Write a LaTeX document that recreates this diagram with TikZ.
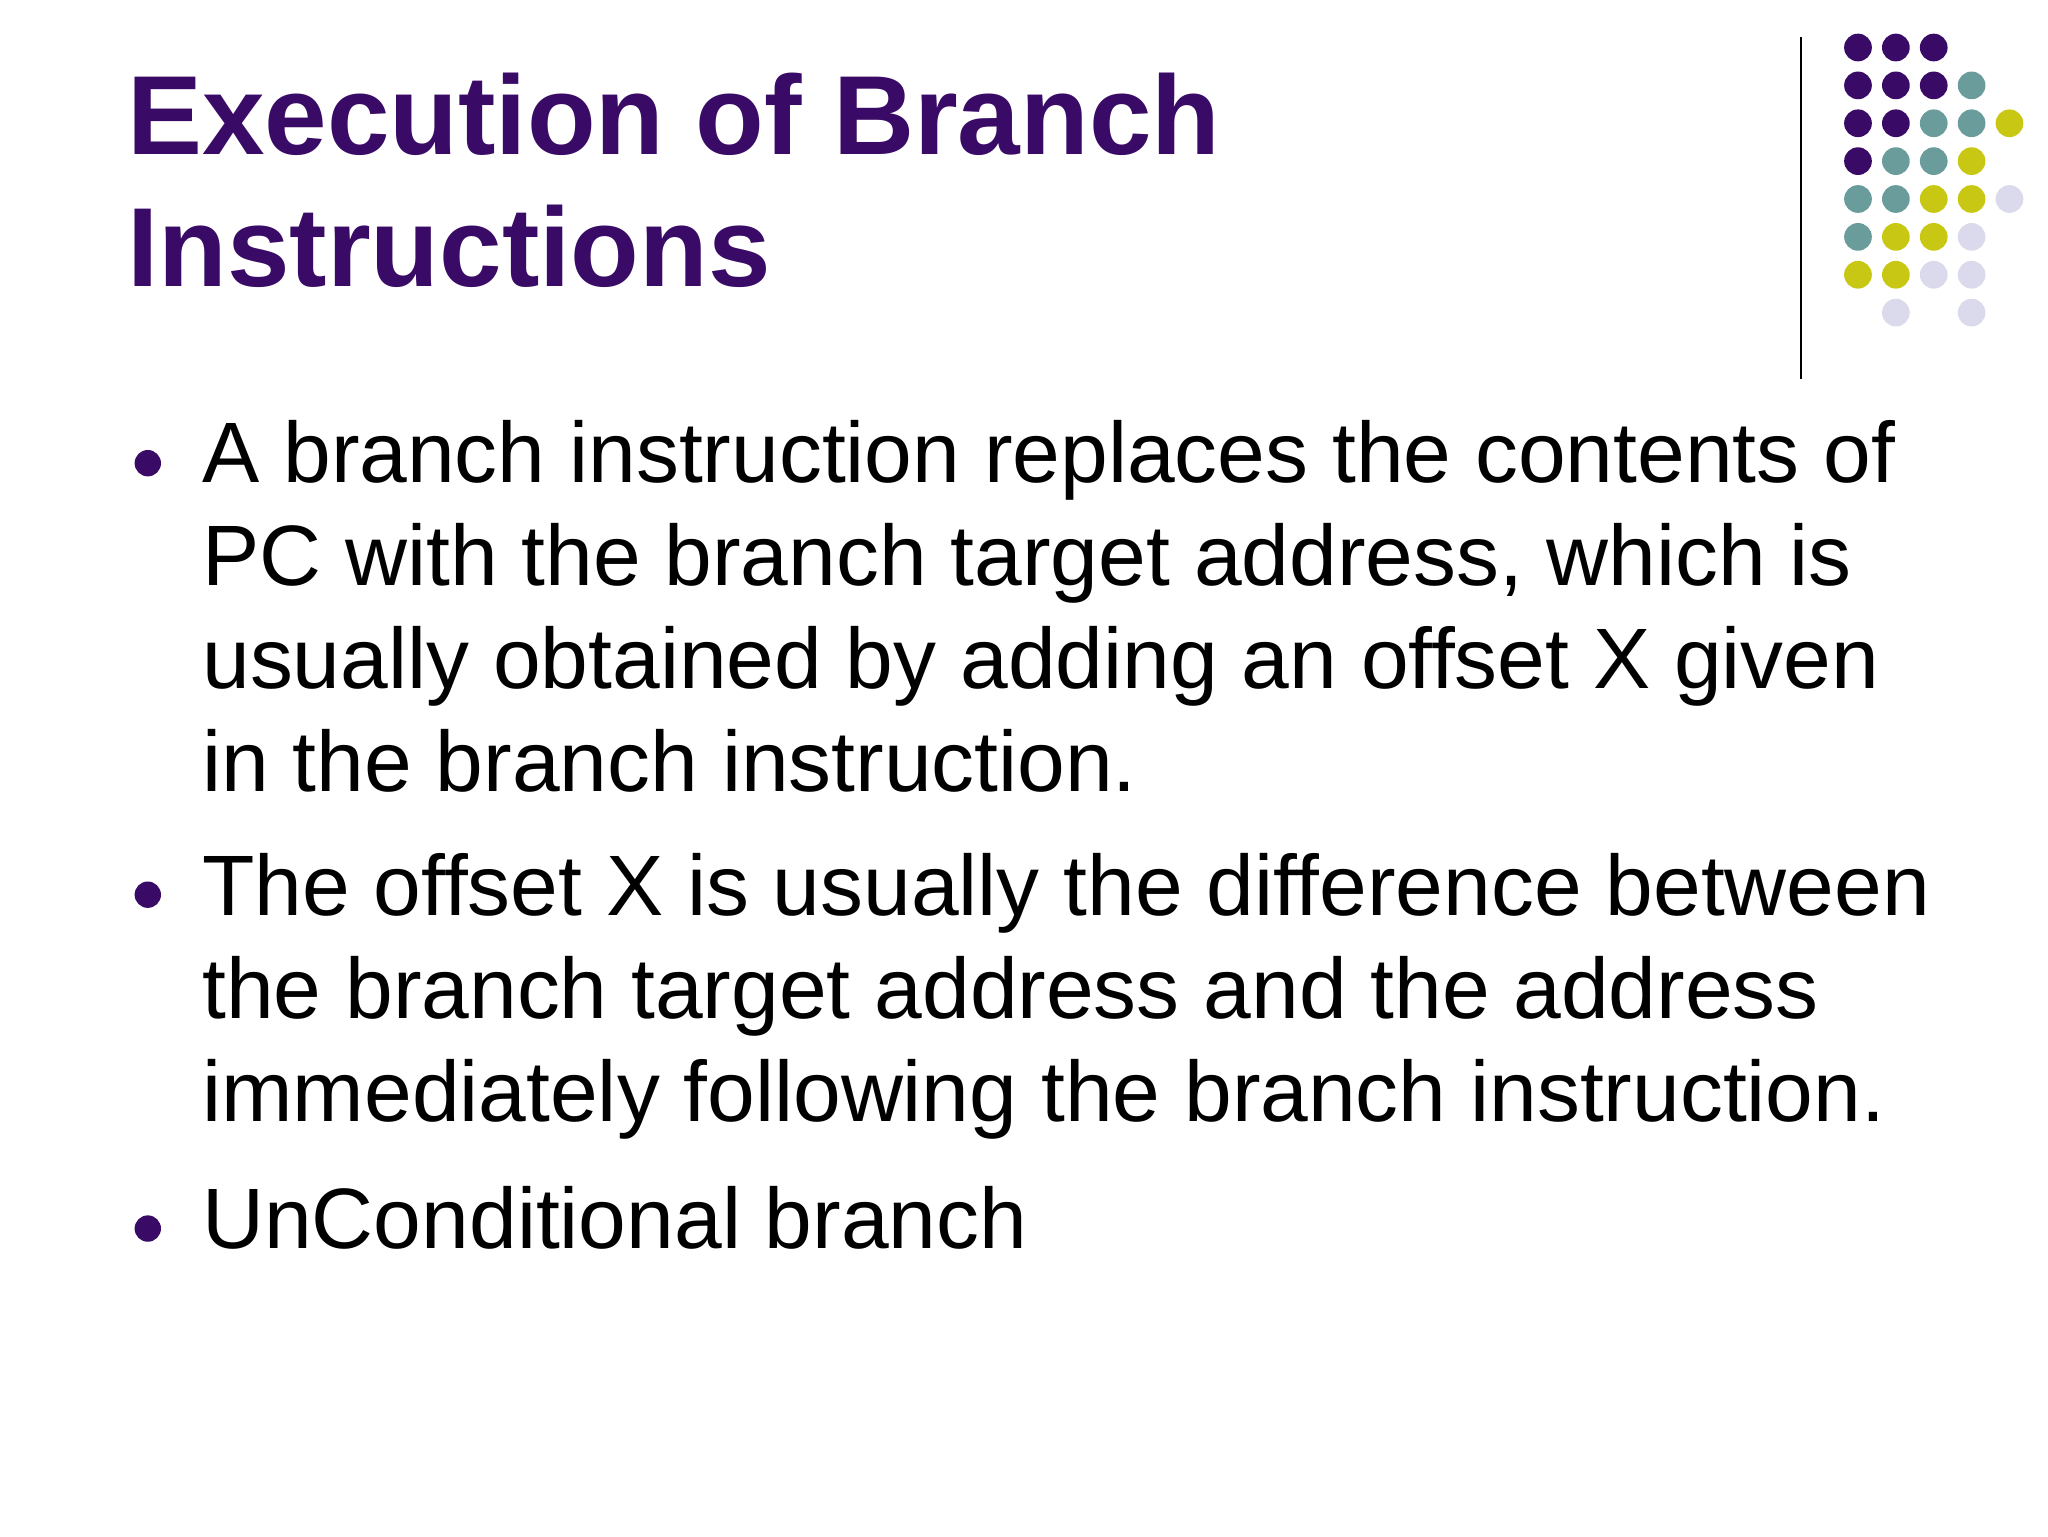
\documentclass[tikz,border=0pt]{standalone}
\usepackage{fontspec}
\setmainfont{Liberation Sans}
\definecolor{tpurple}{HTML}{3A0B66}
\definecolor{dteal}{HTML}{6B9C9C}
\definecolor{dyellow}{HTML}{C8C814}
\definecolor{dlav}{HTML}{DADAEC}
\begin{document}
\begin{tikzpicture}[x=0.02cm,y=-0.02cm,
  body/.style={anchor=base west,inner sep=0,font=\fontsize{37}{44}\selectfont},
  ttl/.style={anchor=base west,inner sep=0,text=tpurple,font=\fontsize{48.5}{54}\selectfont\bfseries},
  bul/.style={circle,fill=tpurple,inner sep=0,minimum size=0.4cm}]
\useasboundingbox (0,0) rectangle (1552,1164);
\node[ttl] (t1) at (96,117) {Execution of Branch};
\node[ttl] (t2) at (96,217) {Instructions};
\draw[line width=1pt] (1365,28) -- (1365,287);
\foreach \r/\list in {0/{0/tpurple,1/tpurple,2/tpurple},
 1/{0/tpurple,1/tpurple,2/tpurple,3/dteal},
 2/{0/tpurple,1/tpurple,2/dteal,3/dteal,4/dyellow},
 3/{0/tpurple,1/dteal,2/dteal,3/dyellow},
 4/{0/dteal,1/dteal,2/dyellow,3/dyellow,4/dlav},
 5/{0/dteal,1/dyellow,2/dyellow,3/dlav},
 6/{0/dyellow,1/dyellow,2/dlav,3/dlav},
 7/{1/dlav,3/dlav}}{
 \foreach \c/\col in \list {\fill[\col] (1408+28.7*\c,36+28.7*\r) circle (10.5);}}
\node[bul] (b1) at (112,351) {};
\node[bul] (b2) at (112,678) {};
\node[bul] (b3) at (112,931) {};
\node[body] (l1) at (153,366) {A branch instruction replaces the contents of};
\node[body] (l2) at (153,444) {PC with the branch target address, which is};
\node[body] (l3) at (153,522) {usually obtained by adding an offset X given};
\node[body] (l4) at (153,600) {in the branch instruction.};
\node[body] (l5) at (153,694) {The offset X is usually the difference between};
\node[body] (l6) at (153,772) {the branch target address and the address};
\node[body] (l7) at (153,850) {immediately following the branch instruction.};
\node[body] (l8) at (153,946) {UnConditional branch};
\end{tikzpicture}
\end{document}
